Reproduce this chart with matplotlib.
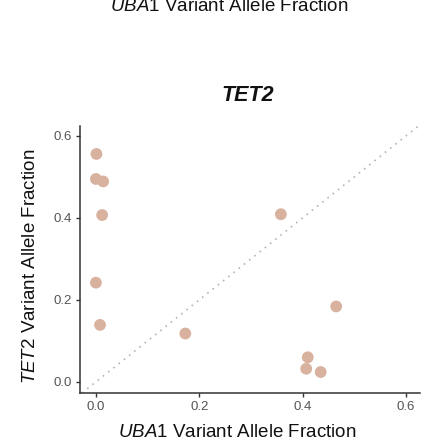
#!/usr/bin/env python3

import matplotlib
matplotlib.use("Agg")
import matplotlib.pyplot as plt

# VAF pairs
uba1_vaf = [0.001, 0.000, 0.014, 0.012, 0.000, 0.008, 0.358, 0.173, 0.465, 0.410, 0.407, 0.435]
tet2_vaf = [0.556, 0.495, 0.489, 0.407, 0.242, 0.139, 0.409, 0.118, 0.184, 0.060, 0.032, 0.024]
ticks = [0.0, 0.2, 0.4, 0.6]
tick_labels = ["0.0", "0.2", "0.4", "0.6"]


def main() -> None:
    plt.rcParams["font.family"] = ["Liberation Sans", "DejaVu Sans"]
    plt.rcParams["mathtext.fontset"] = "custom"
    plt.rcParams["mathtext.it"] = "Liberation Sans:italic"
    plt.rcParams["mathtext.rm"] = "Liberation Sans"

    fig = plt.figure(figsize=(4.25, 4.44), dpi=100)
    ax = fig.add_axes([0.188, 0.115, 0.800, 0.601])

    ax.axline((0, 0), slope=1, linestyle=(0, (1, 3)), color="#b5b5b5", linewidth=1.2, zorder=1)
    ax.scatter(uba1_vaf, tet2_vaf, s=72, color="#d9b19f", edgecolors="none", zorder=3)

    ax.set_xlim(-0.031, 0.627)
    ax.set_ylim(-0.027, 0.624)
    ax.set_xticks(ticks, tick_labels)
    ax.set_yticks(ticks, tick_labels)

    for side in ["top", "right"]:
        ax.spines[side].set_visible(False)
    for side in ["left", "bottom"]:
        ax.spines[side].set_color("#333333")
        ax.spines[side].set_linewidth(1.1)
    ax.tick_params(colors="#333333", labelcolor="#555555", labelsize=9.5, length=3, width=1, pad=3)

    fig.text(0.558, 1 - 432 / 444, r"$\it{UBA1}$ Variant Allele Fraction", ha="center", va="center",
             fontsize=13.5, color="#111111")
    fig.text(0.071, 0.401, r"$\it{TET2}$ Variant Allele Fraction", ha="center", va="center",
             rotation=90, fontsize=13.5, color="#111111")
    fig.text(0.583, 0.786, "TET2", ha="center", va="center", fontsize=15.5,
             fontweight="bold", fontstyle="italic", color="#111111")
    # clipped label from the panel above
    fig.text(0.539, 1 - 11 / 444, r"$\it{UBA1}$ Variant Allele Fraction", ha="center",
             va="baseline", fontsize=13.5, color="#111111")

    fig.savefig("out.png", dpi=100)


if __name__ == "__main__":
    main()
